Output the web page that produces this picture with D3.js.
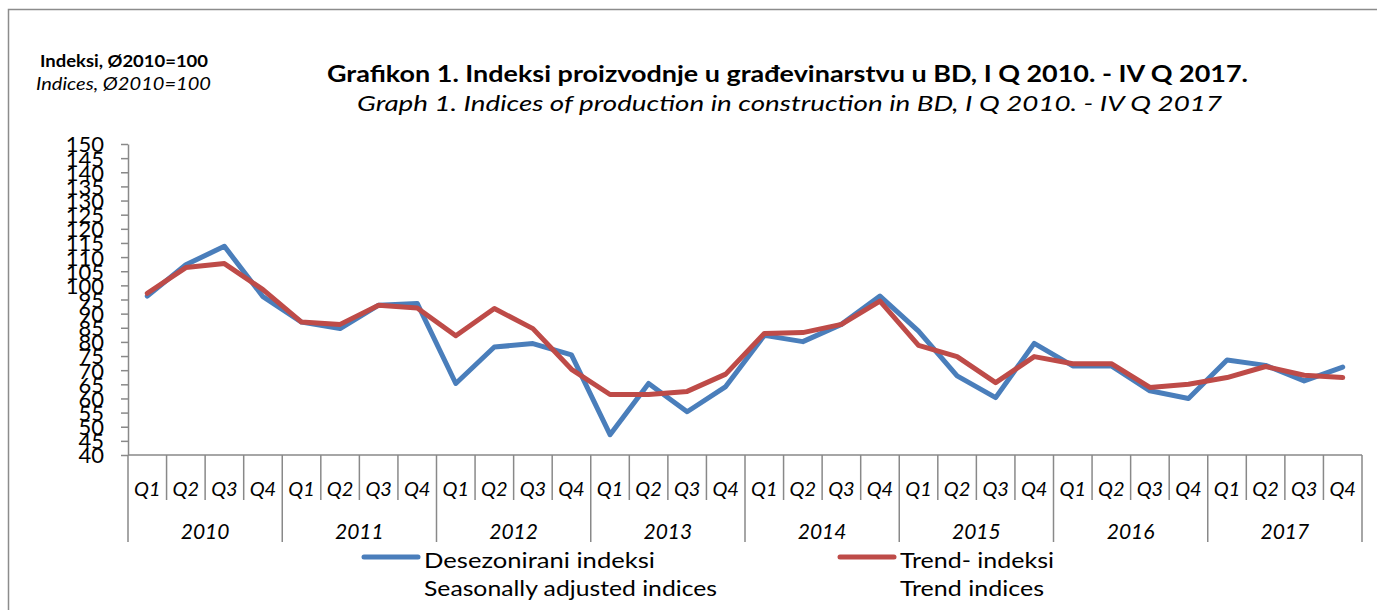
<!DOCTYPE html>
<html>
<head>
<meta charset="utf-8">
<script src="https://cdn.jsdelivr.net/npm/d3@7"></script>
<style>
  body { margin: 0; background: #fff; }
  svg { display: block; font-family: Lato, "Open Sans", sans-serif; }
</style>
</head>
<body>
<div id="chart"></div>
<script>
// Quarter / year categories
const years = ["2010", "2011", "2012", "2013", "2014", "2015", "2016", "2017"];
const quarters = ["Q1", "Q2", "Q3", "Q4"];
const yTicks = d3.range(40, 151, 5);

// Desezonirani indeksi / Seasonally adjusted indices
const seasonal = [
  96.2, 107.3, 113.8, 96.0,
  87.0, 84.7, 93.0, 93.6,
  65.3, 78.2, 79.4, 75.4,
  47.2, 65.3, 55.3, 64.2,
  82.3, 80.1, 86.2, 96.2,
  83.8, 68.0, 60.3, 79.5,
  71.5, 71.5, 62.7, 60.0,
  73.6, 71.7, 66.2, 71.1
];

// Trend- indeksi / Trend indices
const trend = [
  97.2, 106.3, 107.7, 98.5,
  87.0, 86.2, 93.0, 92.0,
  82.2, 91.8, 84.7, 70.3,
  61.4, 61.4, 62.5, 68.6,
  83.0, 83.3, 86.2, 94.4,
  78.8, 74.8, 65.6, 74.8,
  72.3, 72.3, 63.9, 65.0,
  67.4, 71.3, 68.2, 67.4
];

const W = 1377, H = 610;
const plot = { left: 128, right: 1362, top: 144, bottom: 455 };
const blue = "#4a7ebb", red = "#be4b48", grey = "#898989";

const cats = years.flatMap(y => quarters.map(q => y + " " + q));

const svg = d3.select("#chart").append("svg").attr("width", W).attr("height", H);

// outer chart frame (only left and top edges are in view)
svg.append("rect").attr("x", 8.5).attr("y", 9.5).attr("width", W + 20).attr("height", H + 20)
  .attr("fill", "none").attr("stroke", "#8c8c8c").attr("stroke-width", 1.5);

const x = d3.scaleBand().domain(cats).range([plot.left, plot.right]);
const y = d3.scaleLinear().domain([40, 150]).range([plot.bottom, plot.top]);

// unit label, top left
svg.append("text").attr("x", 40).attr("y", 67)
  .attr("textLength", 168).attr("lengthAdjust", "spacingAndGlyphs")
  .style("font-size", "17px").style("font-weight", "700").text("Indeksi, Ø2010=100");
svg.append("text").attr("x", 36).attr("y", 90)
  .attr("textLength", 175).attr("lengthAdjust", "spacingAndGlyphs")
  .style("font-size", "17px").style("font-style", "italic").text("Indices, Ø2010=100");

// titles
svg.append("text").attr("x", 327).attr("y", 82)
  .attr("textLength", 921).attr("lengthAdjust", "spacingAndGlyphs")
  .style("font-size", "23px").style("font-weight", "700")
  .text("Grafikon 1.  Indeksi proizvodnje u građevinarstvu u  BD, I Q 2010.  - IV Q 2017.");
svg.append("text").attr("x", 357).attr("y", 111)
  .attr("textLength", 865).attr("lengthAdjust", "spacingAndGlyphs")
  .style("font-size", "22px").style("font-style", "italic")
  .text("Graph 1.  Indices of production in construction in BD, I Q 2010.  - IV Q 2017");

// y axis
const yAxis = svg.append("g").attr("transform", `translate(${plot.left},0)`)
  .call(d3.axisLeft(y).tickValues(yTicks).tickSize(7).tickPadding(17).tickSizeOuter(0));
yAxis.select(".domain").attr("stroke", grey).attr("stroke-width", 1.5);
yAxis.selectAll(".tick line").attr("stroke", grey).attr("stroke-width", 1.5);
yAxis.selectAll(".tick text").attr("fill", "#000").style("font-size", "22px")
  .style("font-family", "Lato, sans-serif").attr("dy", "0.36em");

// x axis: baseline + category separators
const xg = svg.append("g");
xg.append("line").attr("x1", plot.left).attr("x2", plot.right)
  .attr("y1", plot.bottom).attr("y2", plot.bottom)
  .attr("stroke", grey).attr("stroke-width", 1.5);

const edges = cats.map(c => x(c)).concat([plot.right]);
xg.selectAll(".sep").data(edges).join("line").attr("class", "sep")
  .attr("x1", d => d).attr("x2", d => d)
  .attr("y1", plot.bottom)
  .attr("y2", (d, i) => i % 4 === 0 ? 542 : 500)
  .attr("stroke", grey).attr("stroke-width", 1.5);

xg.selectAll(".qlab").data(cats).join("text").attr("class", "qlab")
  .attr("x", d => x(d) + x.bandwidth() / 2).attr("y", 496)
  .attr("text-anchor", "middle").style("font-size", "20px").style("font-style", "italic")
  .text(d => d.split(" ")[1]);

xg.selectAll(".ylab").data(years).join("text").attr("class", "ylab")
  .attr("x", d => x(d + " Q1") + x.bandwidth() * 2).attr("y", 539)
  .attr("text-anchor", "middle").style("font-size", "21px").style("font-style", "italic")
  .text(d => d);

// lines
const line = d3.line().x((d, i) => x(cats[i]) + x.bandwidth() / 2).y(d => y(d));

svg.append("path").datum(seasonal).attr("d", line)
  .attr("fill", "none").attr("stroke", blue).attr("stroke-width", 5)
  .attr("stroke-linejoin", "round").attr("stroke-linecap", "round");
svg.append("path").datum(trend).attr("d", line)
  .attr("fill", "none").attr("stroke", red).attr("stroke-width", 5)
  .attr("stroke-linejoin", "round").attr("stroke-linecap", "round");

// legend
const legend = [
  { color: blue, x: 364, lines: ["Desezonirani indeksi", "Seasonally adjusted indices"], widths: [231, 293] },
  { color: red, x: 840, lines: ["Trend- indeksi", "Trend indices"], widths: [154, 144] }
];
legend.forEach(l => {
  svg.append("line").attr("x1", l.x).attr("x2", l.x + 54).attr("y1", 557).attr("y2", 557)
    .attr("stroke", l.color).attr("stroke-width", 5).attr("stroke-linecap", "round");
  l.lines.forEach((t, i) => {
    svg.append("text").attr("x", l.x + 60).attr("y", 568 + i * 28)
      .attr("textLength", l.widths[i]).attr("lengthAdjust", "spacingAndGlyphs")
      .style("font-size", "21px").text(t);
  });
});
</script>
</body>
</html>
